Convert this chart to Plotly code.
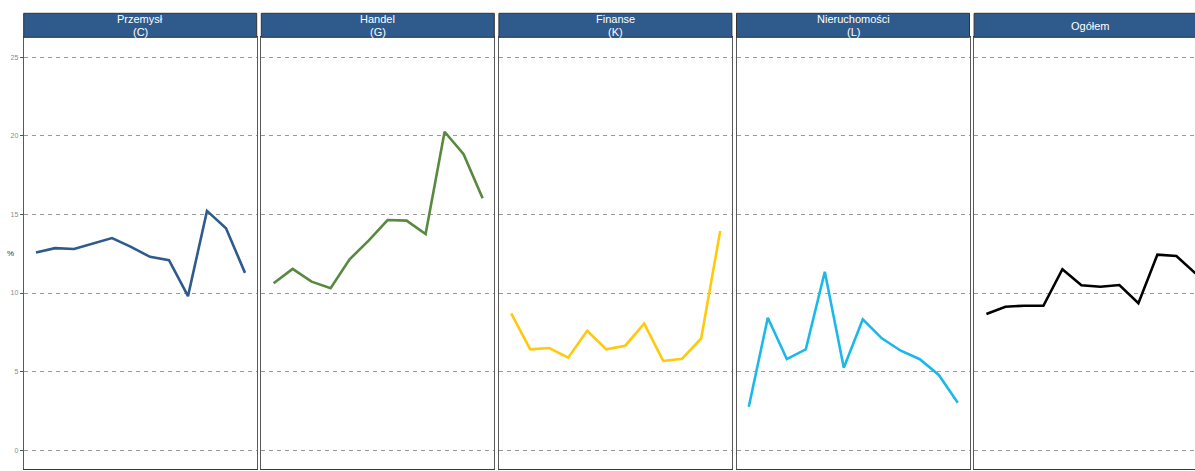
import plotly.graph_objects as go

W, H = 1195, 471

periods = list(range(1, 13))
panel_titles = [["Przemysł", "(C)"], ["Handel", "(G)"], ["Finanse", "(K)"],
                ["Nieruchomości", "(L)"], ["Ogółem"]]
colors = ["#2F5A8C", "#578A3E", "#FFC90E", "#1CB8EA", "#000000"]

przemysl = [12.58, 12.85, 12.80, 13.15, 13.49, 12.93, 12.30, 12.09, 9.80, 15.22, 14.12, 11.28]
handel = [10.62, 11.53, 10.72, 10.30, 12.14, 13.33, 14.64, 14.60, 13.75, 20.25, 18.82, 16.02]
finanse = [8.71, 6.42, 6.50, 5.89, 7.60, 6.42, 6.65, 8.05, 5.68, 5.82, 7.12, 13.94]
nieruchomosci = [2.77, 8.43, 5.80, 6.42, 11.35, 5.25, 8.33, 7.12, 6.33, 5.79, 4.79, 3.03]
ogolem = [8.67, 9.13, 9.19, 9.19, 11.51, 10.49, 10.40, 10.51, 9.35, 12.44, 12.35, 11.25]
series = [przemysl, handel, finanse, nieruchomosci, ogolem]

y_ticks = [0, 5, 10, 15, 20, 25]

# pixel geometry
left0, pitch, pw = 23.7, 237.6, 233.0
top_px, bot_px = 37.3, 468.5
strip_top = 13.3
pad = 12.3
ppu = 19.0
y0_px, ypu = 450.3, 15.73

fig = go.Figure()
shapes, annotations = [], []
ydom = [(H - bot_px) / H, (H - top_px) / H]
yrange = [(y0_px - bot_px) / ypu, (y0_px - top_px) / ypu]

for i in range(5):
    L = left0 + pitch * i
    R = min(L + pw, W)
    xd = [L / W, R / W]
    xr = [1 - pad / ppu, 1 - pad / ppu + (R - L) / ppu]
    sfx = "" if i == 0 else str(i + 1)
    fig.add_trace(go.Scatter(x=periods, y=series[i], mode="lines",
                             line=dict(color=colors[i], width=2.6),
                             xaxis="x" + sfx, yaxis="y" + sfx,
                             showlegend=False, hoverinfo="skip"))
    fig.layout["xaxis" + sfx] = dict(domain=xd, range=xr, showgrid=False,
                                     zeroline=False, showticklabels=False,
                                     showline=True, mirror=True, linecolor="#3a3a3a",
                                     linewidth=1, anchor="y" + sfx, ticks="")
    fig.layout["yaxis" + sfx] = dict(domain=ydom, range=yrange, tickvals=y_ticks,
                                     showgrid=True, gridcolor="#9a9a9a", gridwidth=1,
                                     griddash="4px,4px", zeroline=False,
                                     showticklabels=(i == 0),
                                     ticks="outside" if i == 0 else "",
                                     ticklen=3, tickcolor="#555",
                                     tickfont=dict(size=7, color="#8a8a8a",
                                                   family="Liberation Sans"),
                                     showline=True, mirror=(i < 4),
                                     linecolor="#5a5a5a", linewidth=1,
                                     anchor="x" + sfx)
    shapes.append(dict(type="rect", xref="paper", yref="paper",
                       x0=L / W, x1=(R + (0 if i < 4 else 2)) / W,
                       y0=(H - top_px) / H, y1=(H - strip_top) / H,
                       fillcolor="#2F5A8C", line=dict(color="#333333", width=1),
                       layer="above"))
    cx = (L + L + pw) / 2 / W
    lines = panel_titles[i]
    ys = [19.5, 31.8] if len(lines) == 2 else [25.8]
    for txt, yp in zip(lines, ys):
        annotations.append(dict(text=txt, x=cx, y=(H - yp) / H, xref="paper",
                                yref="paper", showarrow=False, xanchor="center",
                                yanchor="middle",
                                font=dict(size=11, color="white",
                                          family="Liberation Sans")))

annotations.append(dict(text="%", x=10.5 / W, y=(H - 253) / H,
                        xref="paper", yref="paper", showarrow=False,
                        xanchor="center", yanchor="middle",
                        font=dict(size=8, color="#333", family="Liberation Sans")))

fig.update_layout(width=W, height=H, margin=dict(l=0, r=0, t=0, b=0),
                  paper_bgcolor="white", plot_bgcolor="white",
                  shapes=shapes, annotations=annotations)

fig.write_html("out.html",
               config={"displayModeBar": False},
               post_script="document.body.style.margin='0';"
                           "document.body.style.overflow='hidden';")
